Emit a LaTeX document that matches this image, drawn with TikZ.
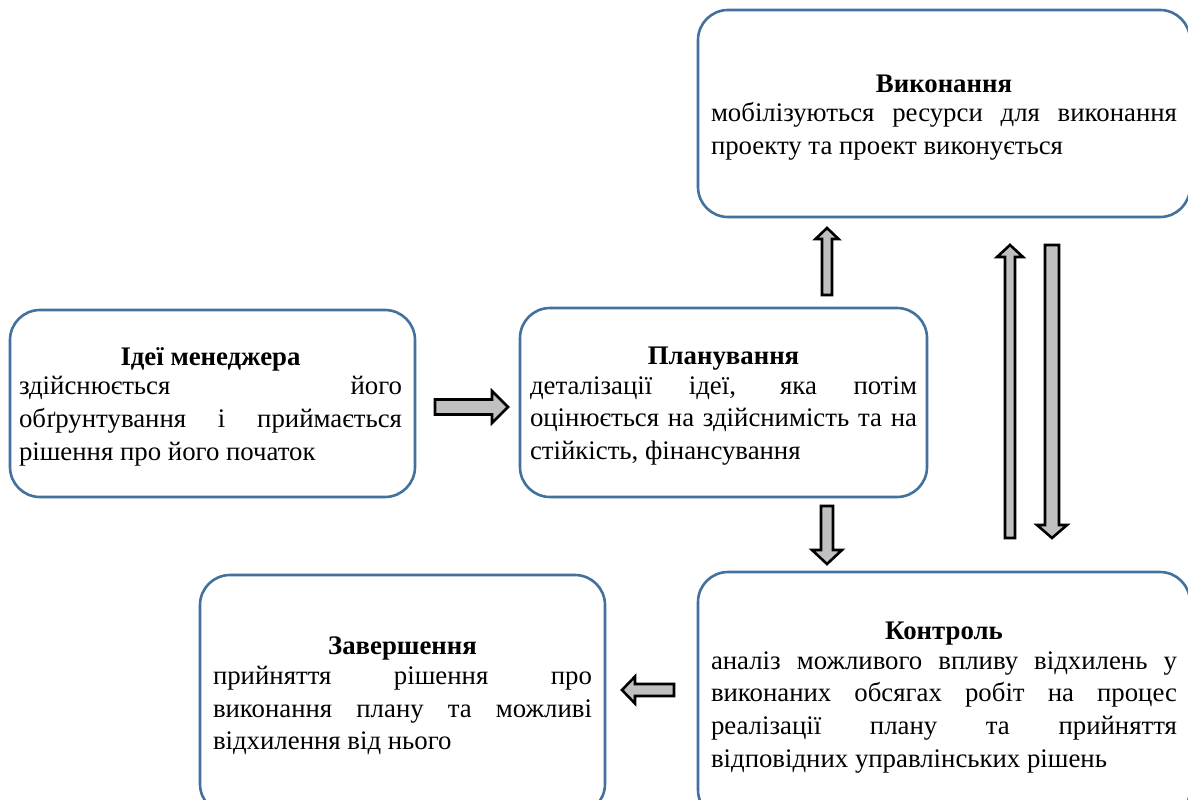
\documentclass[tikz,border=0pt]{standalone}
\usepackage{fontspec}
\setmainfont{Liberation Serif}
\usetikzlibrary{calc}
\definecolor{boxblue}{RGB}{65,113,156}
\definecolor{arrgray}{RGB}{192,192,192}
\setlength{\parindent}{0pt}
\hyphenpenalty=10000
\exhyphenpenalty=10000
\hbadness=10000
\hfuzz=3pt
\newcommand\bodyjust{\leftskip=0pt\rightskip=0pt\parfillskip=0pt plus 1fil\relax}
\newcommand\stagetitle[1]{{\centering\bfseries #1\par}\vspace{-3pt}\bodyjust}
\tikzset{
  stagebox/.style={draw=boxblue, line width=2.6pt, rounded corners=30pt, inner sep=0pt},
  stagetext/.style={inner sep=0pt, align=justify, font=\fontsize{26.8}{32.6}\selectfont},
  blockarrow/.style={draw=black, fill=arrgray, line width=2.6pt, line join=miter},
}
% #1 start, #2 end, #3 shaft half width, #4 head half width, #5 head length
\newcommand\blockarr[5]{%
  \coordinate (H) at ($(#2)!#5!(#1)$);
  \draw[blockarrow] ($(#1)!#3!90:(#2)$) -- ($(H)!#3!90:(#2)$) -- ($(H)!#4!90:(#2)$)
    -- (#2) -- ($(H)!#4!-90:(#2)$) -- ($(H)!#3!-90:(#2)$) -- ($(#1)!#3!-90:(#2)$) -- cycle;}
\begin{document}
\begin{tikzpicture}[x=1pt,y=-1pt]
\useasboundingbox (0,0) rectangle (1188,800);
\clip (0,0) rectangle (1188,800);
\fill[white] (0,0) rectangle (1188,800);

% boxes
\node[stagebox, minimum width=405pt, minimum height=187pt] (idea) at (212.5,403.5) {};
\node[stagebox, minimum width=407pt, minimum height=189pt] (plan) at (723.5,402.5) {};
\node[stagebox, minimum width=492pt, minimum height=207pt] (exec) at (944,113.5) {};
\node[stagebox, minimum width=492pt, minimum height=248pt] (ctrl) at (944,696) {};
\node[stagebox, minimum width=405pt, minimum height=239pt] (fin) at (402.5,694.5) {};

% texts
\node[stagetext, text width=383pt] (ideatext) at ($(idea.center)+(-2,3)$)
 {\stagetitle{Ідеї менеджера}%
  здійснюється його\linebreak обґрунтування і приймається\linebreak рішення про його початок\par};

\node[stagetext, text width=387pt] (plantext) at ($(plan.center)+(0,3.5)$)
 {\stagetitle{Планування}%
  деталізації ідеї, яка потім\linebreak оцінюється на здійснимість та на\linebreak стійкість, фінансування\par};

\node[stagetext, text width=466pt] (exectext) at ($(exec.center)+(0,4)$)
 {\stagetitle{Виконання}%
  мобілізуються ресурси для виконання\linebreak проекту та проект виконується\par};

\node[stagetext, text width=466pt] (ctrltext) at ($(ctrl.center)+(0,1.5)$)
 {\stagetitle{Контроль}%
  аналіз можливого впливу відхилень у\linebreak виконаних обсягах робіт на процес\linebreak реалізації плану та прийняття\linebreak відповідних управлінських рішень\par};

\node[stagetext, text width=379pt] (fintext) at ($(fin.center)+(0,1.5)$)
 {\stagetitle{Завершення}%
  прийняття рішення про\linebreak виконання плану та можливі\linebreak відхилення від нього\par};

% arrows
\coordinate (a1s) at (435,407);  \coordinate (a1e) at (508,407);
\coordinate (a2s) at (827,295);  \coordinate (a2e) at (827,228);
\coordinate (a3s) at (827,506);  \coordinate (a3e) at (827,564);
\coordinate (a4s) at (1010,538); \coordinate (a4e) at (1010,245);
\coordinate (a5s) at (1052,245); \coordinate (a5e) at (1052,538);
\coordinate (a6s) at (674,690);  \coordinate (a6e) at (622,690);
\blockarr{a1s}{a1e}{7.5pt}{16pt}{16pt}
\blockarr{a2s}{a2e}{5pt}{11.5pt}{11pt}
\blockarr{a3s}{a3e}{6pt}{15pt}{14pt}
\blockarr{a4s}{a4e}{5pt}{13pt}{12pt}
\blockarr{a5s}{a5e}{7pt}{15pt}{13pt}
\blockarr{a6s}{a6e}{6pt}{13.5pt}{13pt}
\end{tikzpicture}
\end{document}
